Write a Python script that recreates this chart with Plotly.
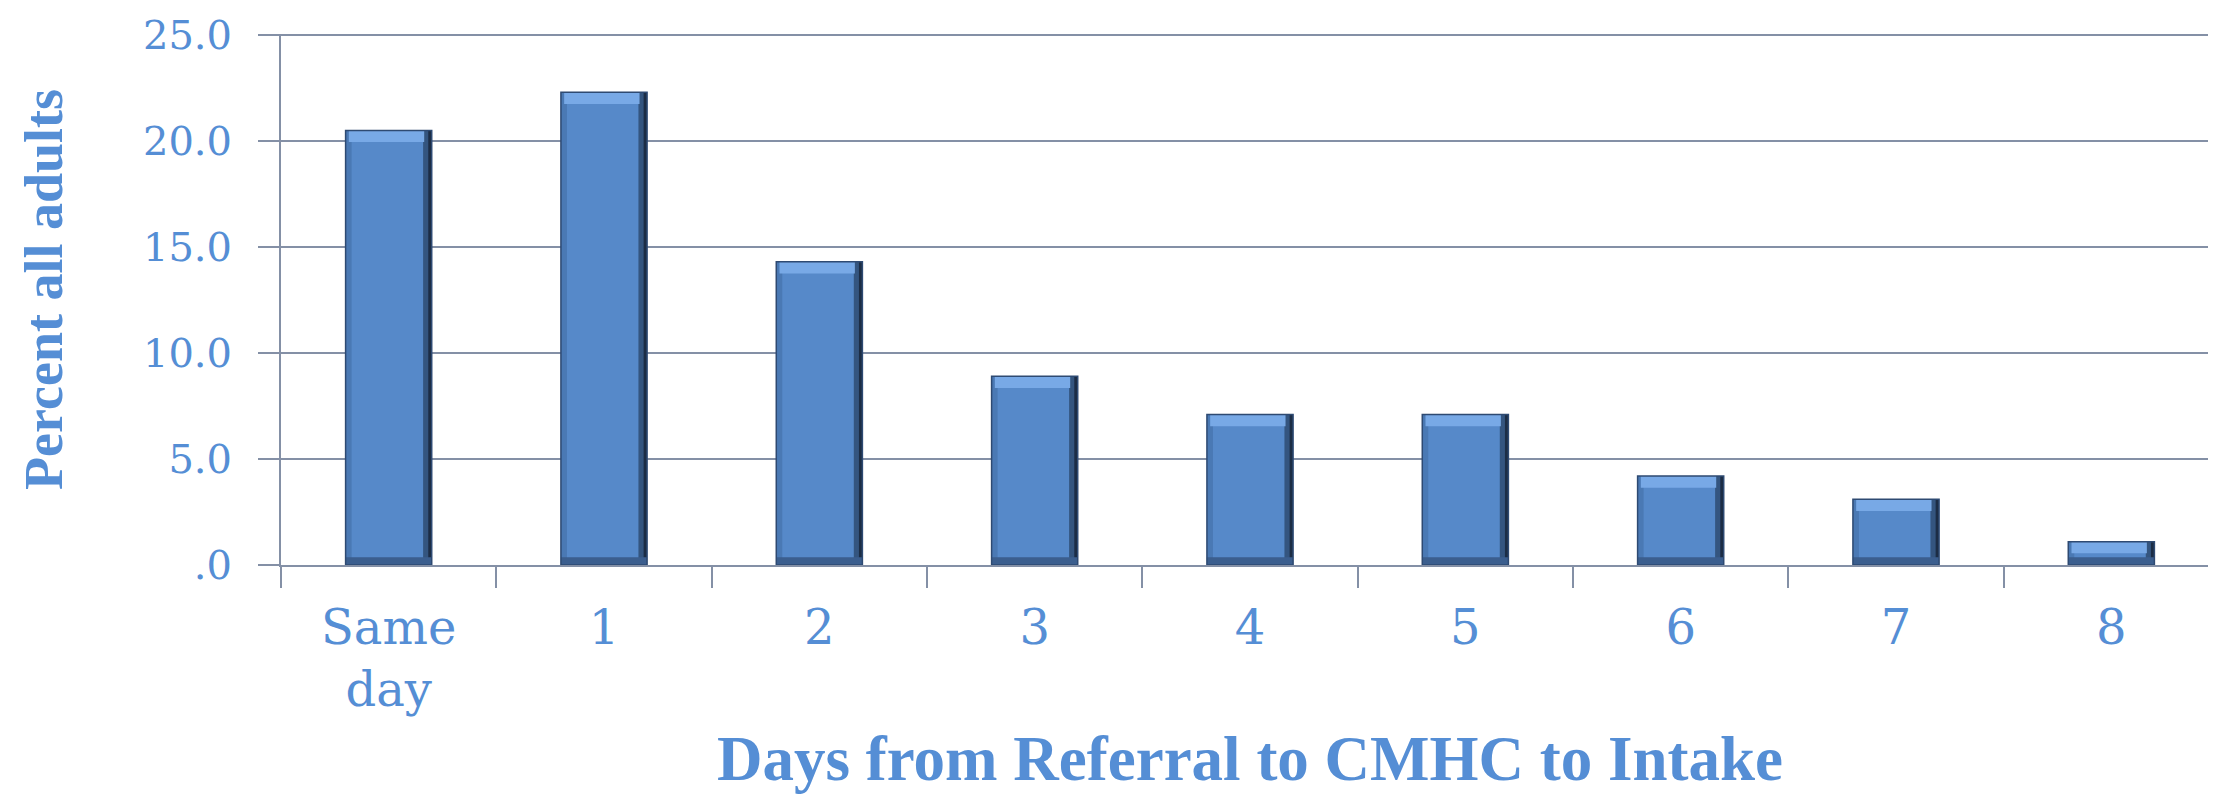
import plotly.graph_objects as go

# ---- data ----
categories = ["Same<br>day", "1", "2", "3", "4", "5", "6", "7", "8"]
percent_all_adults = [20.5, 22.3, 14.3, 8.9, 7.1, 7.1, 4.2, 3.1, 1.1]
y_tick_values = [0, 5, 10, 15, 20, 25]
y_tick_labels = [".0", "5.0", "10.0", "15.0", "20.0", "25.0"]
x_title = "Days from Referral to CMHC to Intake"
y_title = "Percent all adults"

# ---- style ----
TEXT = "#558ED5"
GRID = "#8490A6"
FACE = "#5689C9"
BAR_W = 0.4
TOP_BEVEL = 0.55     # data units (~12px)
BOTTOM_BEVEL = 0.36  # data units (~8px)
T, B = 26, 237
PH = 794 - T - B

fig = go.Figure()

# main bar face
fig.add_trace(go.Bar(x=categories, y=percent_all_adults, width=BAR_W,
                     marker=dict(color=FACE, line=dict(width=0)), hoverinfo="x+y"))
# left shade
fig.add_trace(go.Bar(x=categories, y=percent_all_adults, width=0.028, offset=-BAR_W / 2,
                     marker=dict(color="#4A79B4", line=dict(width=0)), hoverinfo="skip"))
# right shade (two tones)
fig.add_trace(go.Bar(x=categories, y=percent_all_adults, width=0.04, offset=BAR_W / 2 - 0.04,
                     marker=dict(color="#34557F", line=dict(width=0)), hoverinfo="skip"))
fig.add_trace(go.Bar(x=categories, y=percent_all_adults, width=0.016, offset=BAR_W / 2 - 0.016,
                     marker=dict(color="#1C2D45", line=dict(width=0)), hoverinfo="skip"))
# bottom shade
fig.add_trace(go.Bar(x=categories, y=[BOTTOM_BEVEL] * len(categories), base=[0] * len(categories),
                     width=BAR_W, offset=-BAR_W / 2,
                     marker=dict(color="#3B5E8E", line=dict(width=0)), hoverinfo="skip"))
# top highlight
fig.add_trace(go.Bar(x=categories, y=[TOP_BEVEL] * len(categories),
                     base=[v - TOP_BEVEL for v in percent_all_adults],
                     width=BAR_W - 0.05, offset=-BAR_W / 2 + 0.015,
                     marker=dict(color="#78A9E6", line=dict(width=0)), hoverinfo="skip"))
# outline
fig.add_trace(go.Bar(x=categories, y=percent_all_adults, width=BAR_W,
                     marker=dict(color="rgba(0,0,0,0)", line=dict(width=1.5, color="#2E4A72")),
                     hoverinfo="skip"))

fig.update_layout(
    width=2216, height=794,
    barmode="overlay",
    showlegend=False,
    plot_bgcolor="white", paper_bgcolor="white",
    margin=dict(l=273, r=5, t=T, b=B, autoexpand=False),
    xaxis=dict(
        type="category",
        showline=True, linecolor=GRID, linewidth=2,
        ticks="outside", tickson="boundaries", ticklen=21, tickwidth=2, tickcolor=GRID,
        showgrid=False,
        tickfont=dict(family="DejaVu Serif", size=48, color=TEXT),
        ticklabelstandoff=19,
        automargin=False,
    ),
    yaxis=dict(
        range=[0, 25.05],
        tickvals=y_tick_values, ticktext=y_tick_labels,
        showline=True, linecolor=GRID, linewidth=2,
        ticks="outside", ticklen=21, tickwidth=2, tickcolor=GRID,
        showgrid=True, gridcolor=GRID, gridwidth=2,
        zeroline=False,
        tickfont=dict(family="DejaVu Serif", size=40, color=TEXT),
        ticklabelstandoff=18,
        ticklabeloverflow="allow",
        automargin=False,
    ),
    annotations=[
        dict(text=y_title, textangle=-90, xref="paper", yref="paper",
             x=-(273 - 36) / 1938, y=(557 - 282) / PH, xanchor="center", yanchor="middle",
             showarrow=False, font=dict(family="Liberation Serif", size=54, color=TEXT, weight="bold")),
        dict(text=x_title, xref="paper", yref="paper",
             x=0.5, y=(557 - 788) / PH, xanchor="center", yanchor="bottom",
             showarrow=False, font=dict(family="Liberation Serif", size=63, color=TEXT, weight="bold")),
    ],
)

fig.write_html("out.html")
